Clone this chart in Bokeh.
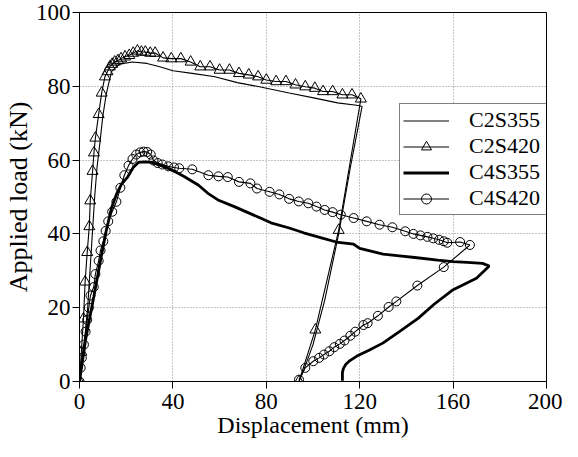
from bokeh.plotting import figure
from bokeh.models import Range1d, FixedTicker
from bokeh.embed import file_html
from bokeh.resources import INLINE

# ---- data ----
c2s355_x = [0, 2, 3.5, 4.5, 5.5, 6.5, 7.5, 8.8, 10, 11.5, 13.7, 17, 22.7, 28.9, 34.4, 40, 48.3,
            58, 67.6, 76, 89.8, 100.8, 110.5, 119.5, 121, 116, 111, 105, 100, 96, 94]
c2s355_y = [0, 10, 20, 30, 40, 50, 58, 65, 72, 78, 84, 86, 86.6, 86.2, 85.3, 84.2, 83.5,
            82.6, 81, 80, 78.2, 76.8, 75.5, 74.8, 74.5, 58, 40, 22, 10, 3, 0]

c2s420_x = [0, 0.8, 1.7, 2.4, 3.3, 4.2, 4.6, 5.6, 6.2, 6.8, 8.2, 9.5, 10.9, 12, 13, 14, 15.1, 16.5,
            17.8, 19.5, 21.3, 23, 24.8, 26.5, 28.2, 30.3, 32.4, 35.8, 39.3, 43.4, 47.6, 51.7,
            55.9, 60, 64.2, 68.3, 72.5, 76.5, 80, 84.2, 88.4, 92.5, 96.7, 100.8, 104.3, 108.4,
            112.6, 116.7, 120.5, 111, 101, 94]
c2s420_y = [0, 8, 17, 27, 35, 42, 49, 57, 62, 66, 72.4, 78.2, 82.6, 84, 85.3, 86, 86.6, 87,
            87.5, 88, 88.4, 89, 89.6, 89.3, 89.3, 89, 89, 87.7, 87.5, 87.5, 86.6, 85.3,
            85.3, 84.4, 84.4, 83.5, 83.1, 82.6, 81.7, 81.3, 81.3, 80.4, 79.9, 79.5, 78.6, 78.6,
            77.7, 77.7, 76.6, 41, 14, 0]

c4s355_x = [0, 2.6, 6.1, 9.5, 11.5, 13.7, 16, 18, 20.6, 23, 25.3, 28, 31, 35, 40, 45, 51, 55,
            59.3, 66.3, 76, 82, 89.8, 96, 103.6, 110, 117.4, 120, 130, 138, 143.6, 153.4, 160,
            166, 172.6, 175.5, 170, 159.6, 152, 145, 137, 129.9, 124, 118.8, 115.5, 114, 113,
            112.6, 112.6]
c4s355_y = [0, 11.3, 22.9, 34.5, 41, 47, 51, 53.5, 55.4, 58, 59.4, 59.5, 59.4, 58.5, 57.2, 55.5,
            53.2, 51, 49.2, 47.4, 44.7, 43, 41.6, 40.3, 38.9, 37.8, 37.2, 36.1, 34.5, 34, 33.6,
            32.9, 32.5, 32.3, 32, 31.3, 28, 24.7, 21, 17.1, 13.5, 10.4, 8.5, 6.9, 5.5, 4.6, 3.5,
            2.4, 0.2]

c4s420_x = [0, 0.5, 1, 1.9, 2.6, 3.3, 4, 4.7, 6.1, 6.8, 8.2, 9, 10.2, 11.2, 12.3, 14, 15.8, 17.5,
            19.2, 21, 22.7, 24.3, 26, 27.5, 29, 30.5, 31.7, 33.5, 35.5, 38, 40.5, 42.7, 48.3,
            55.2, 59.5, 63.5, 68.3, 73.2, 76, 81.4, 85.6, 89.8, 93.9, 98, 101.5, 105, 108.4,
            111.9, 117.4, 123, 128.5, 134, 139.5, 143, 146, 149, 151.5, 154, 156, 157.5, 163,
            167.2, 156, 144.7, 135.7, 132.4, 127.8, 123.4, 121.6, 118.1, 116, 113.5, 111.5,
            109.1, 107, 104.7, 102.6, 100.1, 96.7, 94]
c4s420_y = [0, 3.7, 6.4, 10, 13.5, 16.7, 20, 23.3, 25.6, 29.1, 32.7, 35.5, 38, 40.8, 43.4, 46,
            48.7, 52.5, 55.9, 58.5, 60.3, 61.5, 62.1, 62.3, 62.2, 61.5, 59.9, 59.2, 58.8, 58.3,
            58, 57.8, 57.5, 55.9, 55.6, 55.4, 54.1, 53.7, 52.3, 51.4, 50.7, 49.5, 48.8, 48.3,
            47.4, 46.5, 45.9, 45.2, 44.3, 43.4, 42.5, 41.8, 40.7, 40, 39.6, 39.2, 38.8, 38.4,
            38, 37.6, 37.8, 37, 31, 26, 21.7, 20.2, 17.8, 15.8, 15.3, 13.5, 12.4, 11.1, 10.2,
            9.3, 8.2, 7.3, 6.4, 5.5, 3.7, 0.5]

x_ticks = [0, 40, 80, 120, 160, 200]
y_ticks = [0, 20, 40, 60, 80, 100]

FONT = "Liberation Serif"

p = figure(width=562, height=441, x_range=Range1d(0, 200), y_range=Range1d(0, 100),
           output_backend="svg", toolbar_location=None,
           min_border_left=69, min_border_right=16, min_border_top=12, min_border_bottom=60)

p.outline_line_color = "black"
p.outline_line_width = 1
p.background_fill_color = "white"
p.border_fill_color = "white"

p.xaxis.ticker = FixedTicker(ticks=x_ticks)
p.yaxis.ticker = FixedTicker(ticks=y_ticks)
for ax in (p.xaxis, p.yaxis):
    ax.axis_line_color = "black"
    ax.axis_line_width = 1
    ax.major_tick_line_color = "black"
    ax.major_tick_in = 0
    ax.major_tick_out = 7
    ax.minor_tick_line_color = None
    ax.major_label_text_font = FONT
    ax.major_label_text_font_size = "23px"
    ax.major_label_text_line_height = 1.0
    ax.major_label_text_color = "black"
    ax.axis_label_text_font = FONT
    ax.axis_label_text_font_style = "normal"
    ax.axis_label_text_line_height = 1.0
    ax.axis_label_text_color = "black"
p.xaxis.axis_label = "Displacement (mm)"
p.yaxis.axis_label = "Applied load (kN)"
p.xaxis.axis_label_text_font_size = "24px"
p.yaxis.axis_label_text_font_size = "26px"
p.xaxis.major_label_standoff = 5
p.yaxis.major_label_standoff = 2
p.xaxis.axis_label_standoff = 0
p.yaxis.axis_label_standoff = 0

for g in (p.xgrid, p.ygrid):
    g.grid_line_color = "#8a8a8a"
    g.grid_line_dash = "1 2"
    g.grid_line_width = 1

p.line(c2s355_x, c2s355_y, line_color="black", line_width=1.1, legend_label="C2S355")
p.line(c2s420_x, c2s420_y, line_color="black", line_width=1.1, legend_label="C2S420")
p.scatter(c2s420_x, c2s420_y, marker="triangle", size=11, fill_color=None,
          line_color="black", line_width=1, legend_label="C2S420")
p.line(c4s355_x, c4s355_y, line_color="black", line_width=2.8, legend_label="C4S355")
p.line(c4s420_x, c4s420_y, line_color="black", line_width=1.1, legend_label="C4S420")
p.scatter(c4s420_x, c4s420_y, marker="circle", size=9, fill_color=None,
          line_color="black", line_width=1, legend_label="C4S420")

lg = p.legend[0]
lg.location = (320, 166)
lg.label_text_font = FONT
lg.label_text_font_size = "22px"
lg.label_text_line_height = 1.0
lg.label_text_color = "black"
lg.border_line_color = "black"
lg.border_line_width = 1
lg.background_fill_color = "white"
lg.background_fill_alpha = 1
lg.padding = 3
lg.spacing = 0
lg.margin = 0
lg.glyph_width = 46
lg.glyph_height = 25
lg.label_height = 25
lg.label_width = 79
lg.label_standoff = 20

open("out.html", "w").write(file_html(p, INLINE))
